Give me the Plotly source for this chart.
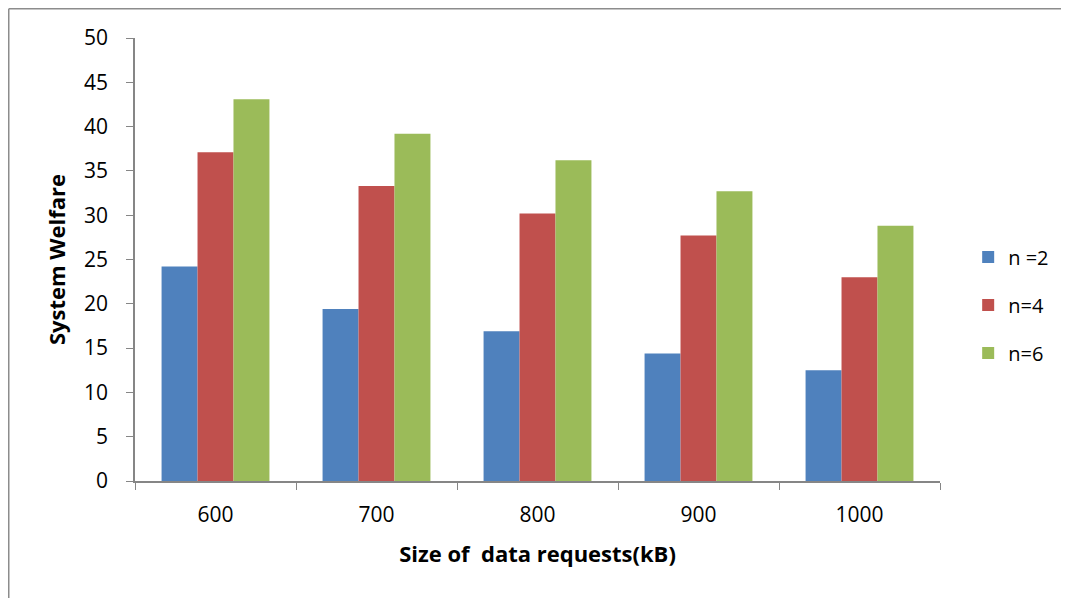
import plotly.graph_objects as go

categories = ["600", "700", "800", "900", "1000"]
n2 = [24.2, 19.4, 16.9, 14.4, 12.5]
n4 = [37.1, 33.3, 30.2, 27.7, 23.0]
n6 = [43.1, 39.2, 36.2, 32.7, 28.8]
series_names = ["n =2", "n=4", "n=6"]
colors = ["#4F81BD", "#C0504D", "#9BBB59"]

FONT = "'Open Sans', Lato, sans-serif"

fig = go.Figure()
for name, vals, col in zip(series_names, [n2, n4, n6], colors):
    fig.add_trace(go.Bar(
        x=categories, y=vals, name=name, legendgroup=name,
        marker=dict(color=col, line=dict(width=0)),
    ))

# page has an 8px body margin; figure origin sits at (8, 8)
W, H = 1061, 590
l, r, t, b = 127, 129, 30, 117
pw, ph = W - l - r, H - t - b
bx = (0.75 - l) / pw
by = (H - b - 0.75) / ph
leg_y = (H - b - 297) / ph

fig.update_layout(
    width=W, height=H,
    margin=dict(l=l, r=r, t=t, b=b, autoexpand=False),
    paper_bgcolor="white", plot_bgcolor="white",
    font=dict(family=FONT, size=21, color="black"),
    barmode="group", bargap=0.33, bargroupgap=0,
    showlegend=True,
    legend=dict(
        x=1.035, y=leg_y, xanchor="left", yanchor="middle",
        traceorder="grouped", tracegroupgap=19,
        font=dict(family=FONT, size=20),
        itemwidth=30,
    ),
    xaxis=dict(
        type="category",
        showline=True, linecolor="#868686", linewidth=1.5,
        ticks="outside", tickson="boundaries", ticklen=7, tickcolor="#868686",
        showgrid=False,
        tickfont=dict(family=FONT, size=21),
        title=dict(text="Size of&nbsp; data requests(kB)",
                   font=dict(family=FONT, size=22, weight="bold"), standoff=20),
        ticklabelstandoff=14,
    ),
    yaxis=dict(
        range=[0, 50], dtick=5,
        showline=True, linecolor="#868686", linewidth=1.5,
        ticks="outside", ticklen=7, tickcolor="#868686",
        showgrid=False, zeroline=False,
        tickfont=dict(family=FONT, size=21),
        title=dict(text="System Welfare",
                   font=dict(family=FONT, size=22, weight="bold"), standoff=12),
        ticklabelstandoff=14,
    ),
    shapes=[
        dict(type="line", xref="paper", yref="paper", x0=bx, x1=bx, y0=-0.5, y1=by,
             line=dict(color="#8c8c8c", width=1.5)),
        dict(type="line", xref="paper", yref="paper", x0=bx, x1=1.5, y0=by, y1=by,
             line=dict(color="#8c8c8c", width=1.5)),
    ],
)

fig.write_html("out.html")
